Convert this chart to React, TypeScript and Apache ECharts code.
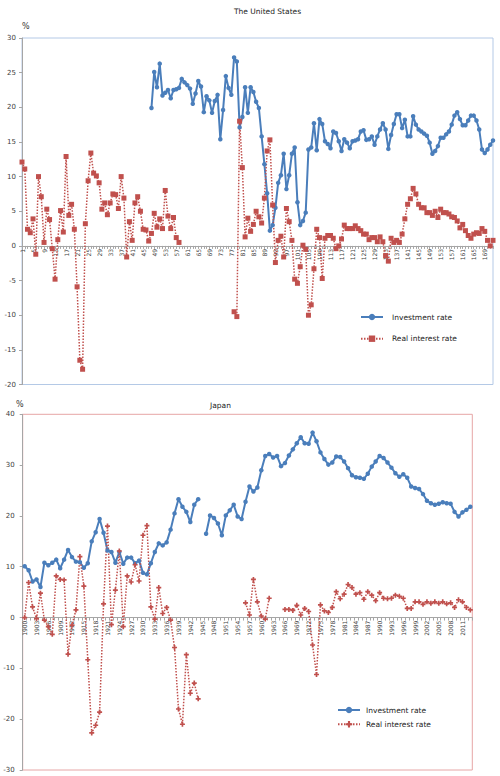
import { useEffect, useRef } from 'react';
import * as echarts from 'echarts';

// ---- United States (periods 1..172) ----
const usPeriods = Array.from({ length: 172 }, (_, i) => String(i + 1));

const usInvestment = [
  null, null, null, null, null, null, null, null, null, null,
  null, null, null, null, null, null, null, null, null, null,
  null, null, null, null, null, null, null, null, null, null,
  null, null, null, null, null, null, null, null, null, null,
  null, null, null, null, null, null, null,
  19.9, 25.1, 22.9, 26.3, 21.7, 22.1, 22.5, 21.3, 22.5, 22.6,
  22.8, 24.1, 23.6, 23.2, 22.7, 20.5, 22.0, 23.8, 23.0, 19.3,
  21.6, 21.0, 19.2, 20.9, 21.8, 15.4, 19.6, 24.5, 22.8, 21.8,
  27.2, 26.6, 17.1, 18.6, 22.9, 19.2, 22.9, 22.2, 20.8, 19.9,
  15.8, 11.8, 7.6, 2.2, 3.0, 5.5, 9.1, 10.2, 13.3, 8.2,
  10.2, 13.3, 14.2, 6.3, 3.0, 3.6, 4.8, 13.9, 14.2, 17.7,
  13.8, 18.3, 17.6, 15.1, 14.7, 14.1, 16.5, 16.3, 15.1, 13.7,
  15.4, 14.9, 14.1, 15.1, 15.2, 15.4, 16.5, 16.7, 15.3, 15.4,
  15.8, 14.6, 15.8, 16.8, 17.7, 16.8, 14.0, 16.0, 17.6, 19.0,
  19.0, 17.0, 18.2, 15.8, 15.8, 18.7, 17.5, 16.8, 16.5, 16.2,
  15.9, 14.9, 13.3, 13.7, 14.4, 15.6, 15.6, 16.1, 16.5, 17.5,
  18.8, 19.3, 18.3, 17.4, 17.4, 18.1, 18.8, 18.8, 18.1, 16.8,
  13.9, 13.4, 13.9, 14.6, 15.2,
];

const usRealRate = [
  12.1, 11.1, 2.4, 1.9, 3.9, -1.2, 10.0, 7.1, 0.5, 5.3,
  3.8, -0.4, -4.8, 0.9, 5.1, 2.0, 12.9, 4.4, 6.0, 2.4,
  -5.9, -16.5, -17.8, 3.2, 9.4, 13.4, 10.5, 10.1, 9.1, 5.3,
  6.2, 4.5, 6.2, 7.5, 7.4, 5.4, 10.0, 6.9, -1.6, 3.5,
  0.8, 6.2, 7.1, 5.0, 2.4, 2.3, 0.7, 1.8, 4.7, 2.7,
  3.9, 2.5, 8.0, 4.3, 2.5, 4.1, 1.2, 0.5,
  null, null, null, null, null, null, null, null, null, null,
  null, null, null, null, null, null, null, null, null,
  -9.5, -10.2, 18.0, 11.3, 1.3, 4.0, 2.1, 3.1, 5.0, 4.2,
  3.3, 6.9, 13.7, 15.3, 5.9, -2.4, 0.8, 1.4, -1.6, 5.4,
  3.5, 0.8, -4.8, -5.4, -3.0, 0.1, -0.5, -10.0, -8.5, -3.3,
  2.4, 1.2, -4.7, 1.1, 1.5, 1.5, 1.1, -0.4, 0.0, 1.0,
  3.0, 2.5, 2.5, 2.5, 2.9, 2.5, 2.2, 1.7, 1.7, 0.9,
  1.2, 1.2, 0.6, 1.3, 0.6, -1.4, -2.2, 1.1, 0.5, 0.8,
  0.5, 1.7, 3.9, 6.0, 6.8, 8.3, 7.5, 6.0, 5.5, 5.5,
  4.8, 4.8, 4.4, 5.0, 4.1, 5.3, 4.8, 4.8, 4.6, 4.2,
  4.1, 3.6, 2.6, 3.1, 2.2, 1.5, 1.1, 1.7, 1.9, 1.8,
  2.5, 2.1, 0.8, 0.0, 0.8,
];

// ---- Japan (1900..2013) ----
const jpYears = Array.from({ length: 114 }, (_, i) => String(1900 + i));

const jpInvestment = [
  10.1, 9.3, 7.1, 7.5, 6.0, 10.8, 10.3, 10.8, 11.4, 9.7,
  11.4, 13.3, 11.9, 11.0, 10.9, 9.8, 10.7, 15.0, 16.8, 19.4,
  16.7, 13.2, 12.9, 10.8, 12.9, 10.6, 11.8, 11.8, 10.7, 11.2,
  8.8, 8.5, 10.7, 12.9, 14.6, 14.2, 14.8, 17.3, 20.5, 23.3,
  21.8, 20.8, 18.8, 22.2, 23.3, null, 16.5, 20.1, 19.6, 18.5,
  16.2, 20.1, 21.1, 22.2, 19.9, 19.4, 22.8, 25.8, 24.8, 25.6,
  29.0, 31.8, 32.2, 31.5, 31.8, 29.8, 30.4, 31.9, 33.1, 34.3,
  35.5, 34.3, 34.2, 36.4, 34.7, 32.5, 31.2, 30.1, 30.5, 31.7,
  31.6, 30.7, 29.4, 28.0, 27.6, 27.5, 27.3, 28.3, 29.7, 30.7,
  31.8, 31.4, 30.5, 29.5, 28.4, 27.7, 28.2, 27.5, 25.8, 25.5,
  25.3, 24.3, 23.0, 22.5, 22.2, 22.4, 22.7, 22.5, 22.4, 20.8,
  19.9, 20.7, 21.2, 21.8,
];

const jpRealRate = [
  0.0, 6.9, 2.1, -0.2, 4.8, -0.5, -1.8, -3.3, 8.2, 7.5,
  7.4, -7.2, -1.5, 1.5, 12.0, 6.2, -8.3, -22.7, -21.2, -18.6,
  2.7, 18.0, -1.4, 5.4, 13.1, -1.8, 8.2, 7.0, 10.4, 7.2,
  16.2, 18.1, 2.1, -0.3, 5.9, 0.8, 2.0, -0.5, -5.9, -18.0,
  -21.0, -7.3, -14.9, -12.9, -16.0, null, null, null, null, null,
  null, null, null, null, null, null, 2.9, 0.5, 7.5, 3.1,
  0.3, -0.3, 3.8, null, null, null, 1.6, 1.6, 1.4, 2.4,
  0.5, 1.8, 1.2, -5.4, -11.2, 2.5, 1.3, 1.0, 2.0, 5.1,
  3.7, 4.6, 6.5, 5.9, 4.6, 4.9, 3.6, 5.1, 4.4, 3.3,
  4.9, 3.8, 3.7, 3.8, 4.4, 4.2, 3.8, 1.8, 1.8, 3.1,
  3.1, 2.6, 3.1, 2.8, 3.1, 2.8, 3.1, 2.7, 2.9, 2.0,
  3.5, 3.1, 2.0, 1.5,
];

const FONT = '"DejaVu Sans", sans-serif';
const BLUE = '#4a7ebb';
const RED = '#c0504d';
const AXIS = '#a6a6a6';
const LABEL = '#404040';
const PLUS = 'path://M2,0H4V2H6V4H4V6H2V4H0V2H2Z';

function buildOption(cfg: any): echarts.EChartsOption {
  // distance from the grid bottom up to the zero line
  const zeroUp = (cfg.grid[3] * (0 - cfg.yMin)) / (cfg.yMax - cfg.yMin);
  return {
    animation: false,
    backgroundColor: '#fff',
    title: {
      text: cfg.title,
      left: cfg.titleX,
      top: cfg.titleY,
      padding: 0,
      textStyle: { fontFamily: FONT, fontSize: 7.5, fontWeight: 'normal', color: '#222' },
    },
    graphic: [
      {
        type: 'text',
        x: cfg.pctX,
        y: cfg.pctY,
        style: { text: '%', fontFamily: FONT, fontSize: 8, fill: '#333', verticalAlign: 'middle' },
      },
    ],
    legend: {
      orient: 'vertical',
      left: cfg.legendX,
      top: cfg.legendY,
      itemWidth: 22,
      itemHeight: 8,
      itemGap: cfg.legendGap,
      padding: 0,
      textStyle: {
        fontFamily: FONT,
        fontSize: 7.5,
        color: '#222',
        lineHeight: 8,
        padding: [0, 0, 0, cfg.legendPad],
      },
      data: ['Investment rate', 'Real interest rate'],
    },
    grid: {
      left: cfg.grid[0],
      top: cfg.grid[1],
      width: cfg.grid[2],
      height: cfg.grid[3],
      show: true,
      borderColor: cfg.border,
      borderWidth: 1,
      backgroundColor: 'transparent',
    },
    xAxis: {
      type: 'category',
      data: cfg.cats,
      boundaryGap: cfg.boundaryGap,
      offset: -zeroUp,
      axisLine: { onZero: false, lineStyle: { color: AXIS, width: 1 } },
      axisTick: { show: true, interval: 0, length: 3, lineStyle: { color: AXIS } },
      axisLabel: {
        interval: cfg.labelEvery,
        rotate: 90,
        margin: 3,
        fontFamily: FONT,
        fontSize: 6,
        color: LABEL,
      },
      splitLine: { show: false },
    },
    yAxis: {
      type: 'value',
      min: cfg.yMin,
      max: cfg.yMax,
      interval: cfg.yStep,
      axisLine: { show: true, lineStyle: { color: AXIS, width: 1 } },
      axisTick: { show: true, length: 3, lineStyle: { color: AXIS } },
      axisLabel: { margin: cfg.yMargin, fontFamily: FONT, fontSize: 7, color: LABEL },
      splitLine: { show: false },
    },
    series: [
      {
        name: 'Investment rate',
        type: 'line',
        data: cfg.invest,
        symbol: 'circle',
        symbolSize: cfg.blueSize,
        showSymbol: true,
        showAllSymbol: true,
        connectNulls: false,
        lineStyle: { color: BLUE, width: 2 },
        itemStyle: { color: BLUE },
      },
      {
        name: 'Real interest rate',
        type: 'line',
        data: cfg.real,
        symbol: cfg.redSymbol,
        symbolSize: cfg.redSize,
        showSymbol: true,
        showAllSymbol: true,
        connectNulls: false,
        lineStyle: { color: RED, width: 1.5, type: [1.5, 1.5] },
        itemStyle: { color: RED },
      },
    ],
  };
}

export default function App() {
  const usRef = useRef<HTMLDivElement>(null);
  const jpRef = useRef<HTMLDivElement>(null);

  useEffect(() => {
    if (!usRef.current || !jpRef.current) return;
    const us = echarts.init(usRef.current, undefined, { renderer: 'svg' });
    const jp = echarts.init(jpRef.current, undefined, { renderer: 'svg' });

    us.setOption(
      buildOption({
        title: 'The United States',
        titleX: 234,
        titleY: 7,
        pctX: 22,
        pctY: 26.5,
        legendX: 360,
        legendY: 313,
        legendGap: 13.7,
        legendPad: 4,
        grid: [22, 38, 471, 346.5],
        border: '#b4c9e6',
        cats: usPeriods,
        boundaryGap: false,
        labelEvery: 3,
        yMin: -20,
        yMax: 30,
        yStep: 5,
        yMargin: 6,
        invest: usInvestment,
        real: usRealRate,
        blueSize: 4.5,
        redSymbol: 'rect',
        redSize: 5,
      })
    );

    jp.setOption(
      buildOption({
        title: 'Japan',
        titleX: 210,
        titleY: 9,
        pctX: 16,
        pctY: 12,
        legendX: 337,
        legendY: 314,
        legendGap: 6.3,
        legendPad: 1,
        grid: [22.7, 22.3, 449.6, 355.7],
        border: '#e6a6a6',
        cats: jpYears,
        boundaryGap: true,
        labelEvery: 2,
        yMin: -30,
        yMax: 40,
        yStep: 10,
        yMargin: 8,
        invest: jpInvestment,
        real: jpRealRate,
        blueSize: 4.5,
        redSymbol: PLUS,
        redSize: 5,
      })
    );

    return () => {
      us.dispose();
      jp.dispose();
    };
  }, []);

  return (
    <div style={{ position: 'absolute', left: 0, top: 0, width: 500, height: 776, background: '#fff' }}>
      <div ref={usRef} style={{ position: 'absolute', left: 0, top: 0, width: 500, height: 392 }} />
      <div ref={jpRef} style={{ position: 'absolute', left: 0, top: 392, width: 500, height: 384 }} />
    </div>
  );
}
